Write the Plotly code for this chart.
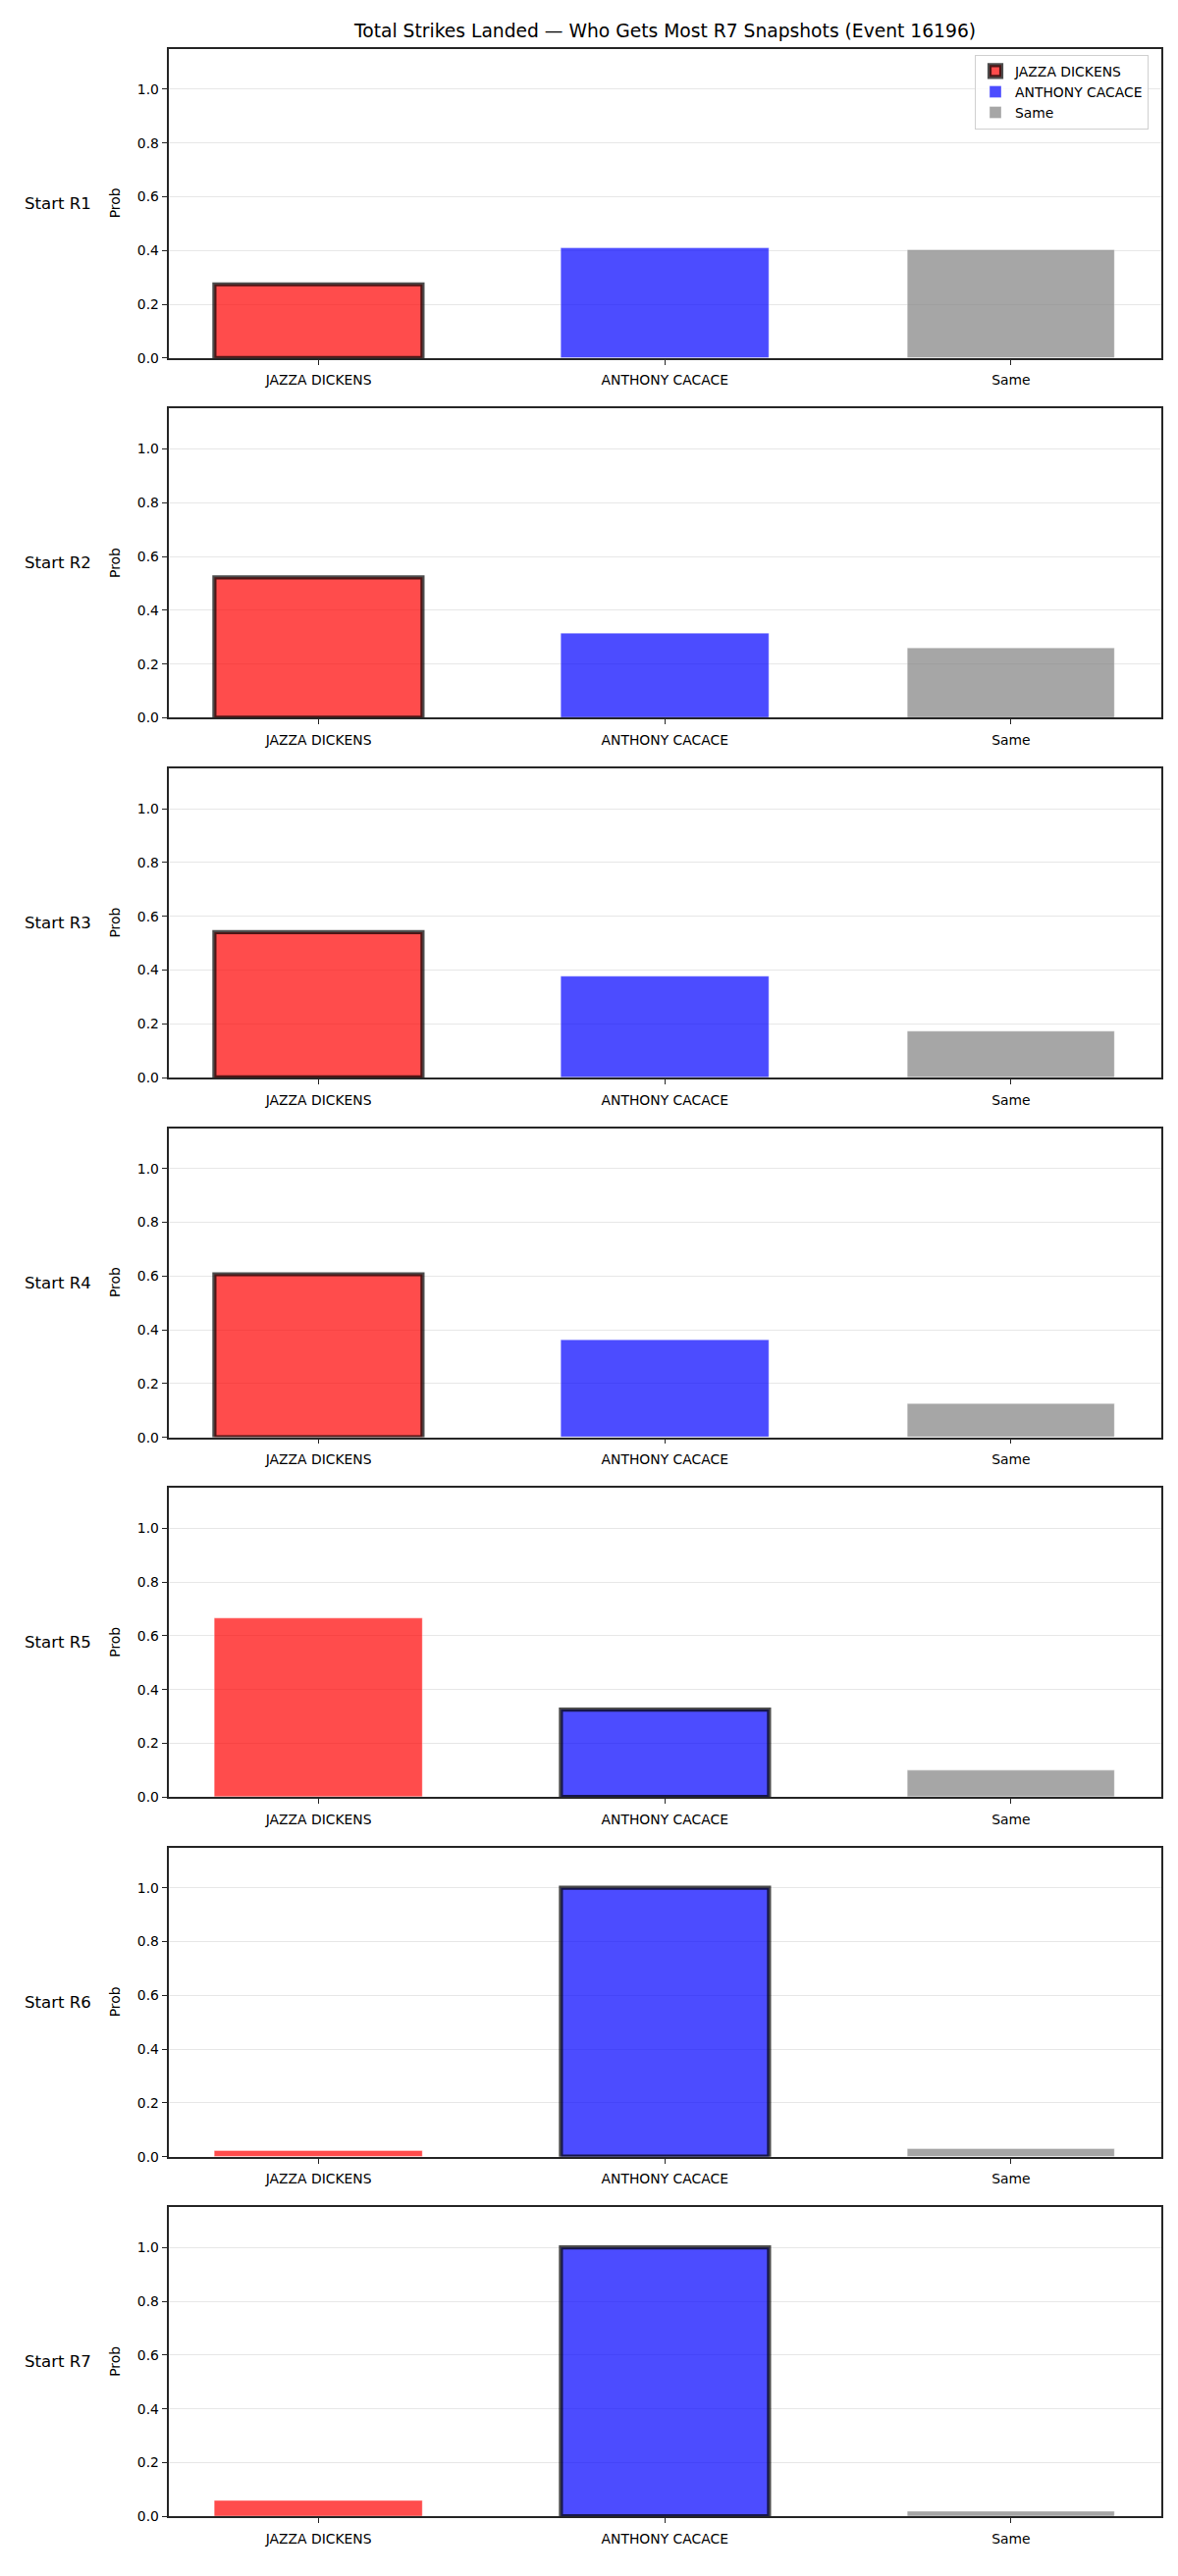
import plotly.graph_objects as go

# ---------------- data ----------------
categories = ["JAZZA DICKENS", "ANTHONY CACACE", "Same"]
snapshots = ["Start R1", "Start R2", "Start R3", "Start R4", "Start R5", "Start R6", "Start R7"]
jazza = [0.275, 0.522, 0.540, 0.606, 0.665, 0.022, 0.058]
anthony = [0.410, 0.313, 0.377, 0.362, 0.326, 1.000, 1.000]
same = [0.403, 0.258, 0.172, 0.124, 0.097, 0.030, 0.017]
highlighted = [0, 0, 0, 0, 1, 1, 1]  # index of outlined category per snapshot
y_ticks = [0.0, 0.2, 0.4, 0.6, 0.8, 1.0]
title = "Total Strikes Landed — Who Gets Most R7 Snapshots (Event 16196)"

# ---------------- style ----------------
W, H = 1200, 2625
fills = ["rgba(255,0,0,0.7)", "rgba(0,0,255,0.7)", "rgba(128,128,128,0.7)"]
FONT = "DejaVu Sans"
left_px, right_px = 171.5, 1183
top0, pitch, ph = 50, 367.7, 316

series = [jazza, anthony, same]
fig = go.Figure()
layout = dict()
annotations = []

for i, snap in enumerate(snapshots):
    top = top0 + i * pitch
    bot = top + ph
    xa = "x" if i == 0 else f"x{i+1}"
    ya = "y" if i == 0 else f"y{i+1}"
    for c, cat in enumerate(categories):
        hl = highlighted[i] == c
        fig.add_trace(go.Bar(
            x=[cat], y=[series[c][i]], width=0.6,
            name=cat, legendgroup=cat, showlegend=(i == 0),
            marker=dict(color=fills[c],
                        line=dict(color="rgba(0,0,0,0.7)" if hl else "rgba(255,255,255,0.6)",
                                  width=4.2 if hl else 0.6)),
            xaxis=xa, yaxis=ya, hoverinfo="x+y",
        ))
    xkey = "xaxis" if i == 0 else f"xaxis{i+1}"
    ykey = "yaxis" if i == 0 else f"yaxis{i+1}"
    layout[xkey] = dict(
        domain=[left_px / W, right_px / W], anchor=ya,
        type="category", categoryorder="array", categoryarray=categories,
        range=[-0.434, 2.434], showgrid=False,
        showline=True, mirror=True, linecolor="#262626", linewidth=1.6,
        ticks="outside", ticklen=5, tickwidth=1, tickcolor="#262626",
        ticklabelstandoff=4,
        tickfont=dict(family=FONT, size=13.9, color="black"),
        zeroline=False,
    )
    layout[ykey] = dict(
        domain=[1 - bot / H, 1 - top / H], anchor=xa,
        range=[0, 1.15], tickvals=y_ticks, tickformat=".1f",
        showgrid=True, gridcolor="rgba(176,176,176,0.3)", gridwidth=1,
        showline=True, mirror=True, linecolor="#262626", linewidth=1.6,
        ticks="outside", ticklen=5, tickwidth=1, tickcolor="#262626",
        tickfont=dict(family=FONT, size=13.9, color="black"),
        zeroline=False, layer="above traces",
    )
    ymid = 1 - (top + bot) / 2 / H
    annotations.append(dict(text=snap, x=23 / W, y=ymid, xref="paper", yref="paper",
                            xanchor="left", yanchor="middle", showarrow=False,
                            font=dict(family=FONT, size=16.6, color="black")))
    annotations.append(dict(text="Prob", x=117 / W, y=ymid, xref="paper", yref="paper",
                            xanchor="center", yanchor="middle", showarrow=False, textangle=-90,
                            font=dict(family=FONT, size=13.9, color="black")))

annotations.append(dict(text=title, x=(left_px + right_px) / 2 / W, y=1 - 31.5 / H,
                        xref="paper", yref="paper", xanchor="center", yanchor="middle",
                        showarrow=False, font=dict(family=FONT, size=18.7, color="black")))

fig.update_layout(
    width=W, height=H, margin=dict(l=0, r=0, t=0, b=0),
    paper_bgcolor="white", plot_bgcolor="white",
    barmode="overlay", bargap=0,
    font=dict(family=FONT, color="black"),
    annotations=annotations,
    legend=dict(x=1170 / W, y=1 - 56 / H, xanchor="right", yanchor="top",
                bordercolor="#d0d0d0", borderwidth=1, bgcolor="rgba(255,255,255,0.8)",
                font=dict(family=FONT, size=13.9, color="black"),
                tracegroupgap=0),
    **layout,
)

fig.write_html("out.html")
